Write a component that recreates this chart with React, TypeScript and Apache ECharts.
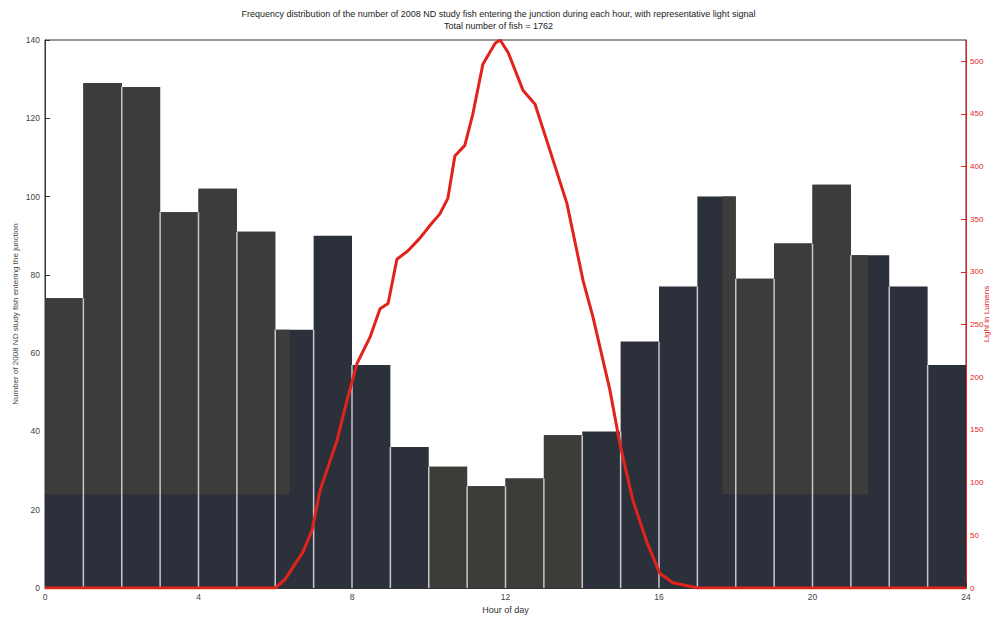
import React, { useEffect, useRef } from "react";
import * as echarts from "echarts";

// Fish counts per hour bin [h, h+1)
const hourBins = [0, 1, 2, 3, 4, 5, 6, 7, 8, 9, 10, 11, 12, 13, 14, 15, 16, 17, 18, 19, 20, 21, 22, 23];
const fishCounts = [74, 129, 128, 96, 102, 91, 66, 90, 57, 36, 31, 26, 28, 39, 40, 63, 77, 100, 79, 88, 103, 85, 77, 57];

// Representative light signal
const lightHours = [0, 6.0, 6.25, 6.72, 6.96, 7.17, 7.61, 7.87, 8.13, 8.47, 8.73, 8.94, 9.17, 9.46, 9.77, 10.03, 10.29, 10.5, 10.68, 10.94, 11.15, 11.41, 11.73, 11.86, 12.07, 12.46, 12.77, 13.16, 13.6, 14.02, 14.28, 14.72, 14.98, 15.32, 15.69, 16.02, 16.36, 16.89, 17.0, 24];
const lightLumens = [0, 0, 8, 34, 55, 93, 140, 178, 213, 238, 265, 270, 312, 320, 332, 344, 355, 370, 410, 420, 450, 497, 517, 520, 508, 472, 459, 415, 365, 292, 257, 188, 137, 83, 43, 14, 5, 1, 0, 0];

const xTicks = [0, 4, 8, 12, 16, 20, 24];

const titleText =
  "Frequency distribution of the number of 2008 ND study fish entering the junction during each hour, with representative light signal\nTotal number of fish = 1762";

// scan tint regions (style only)
const BAR_BLUE = "#2c303a";
const tintRegions = [
  { x0: 0, x1: 6.38, yMin: 24, color: "#3c3c3a" },
  { x0: 17.65, x1: 21.45, yMin: 24, color: "#3c3c3a" },
  { x0: 10, x1: 14, yMin: 0, color: "#3d3c39" },
];

const FONT = "Liberation Sans, Arial, sans-serif";
const RED = "#e2231c";

export default function App() {
  const ref = useRef<HTMLDivElement>(null);
  useEffect(() => {
    if (!ref.current) return;
    const chart = echarts.init(ref.current, undefined, { renderer: "svg" });
    const option: any = {
      animation: false,
      backgroundColor: "#ffffff",
      title: {
        text: titleText,
        left: "center",
        top: 3,
        textStyle: {
          fontSize: 9,
          fontWeight: "normal",
          fontFamily: FONT,
          color: "#222",
          lineHeight: 12,
        },
      },
      grid: {
        left: 45,
        right: 31,
        top: 40,
        bottom: 30,
        outerBoundsMode: "none",
        containLabel: false,
        show: true,
        borderColor: "#333",
        borderWidth: 1,
        backgroundColor: "transparent",
      },
      xAxis: {
        type: "value",
        min: 0,
        max: 24,
        interval: 4,
        name: "Hour of day",
        nameLocation: "middle",
        nameGap: 17,
        nameMoveOverlap: false,
        nameTextStyle: { fontSize: 9, fontFamily: FONT, color: "#333" },
        axisLine: { show: true, lineStyle: { color: "#333", width: 1 } },
        axisTick: { show: true, inside: true, length: 5, lineStyle: { color: "#333" } },
        axisLabel: {
          fontSize: 8.5,
          fontFamily: FONT,
          color: "#444",
          margin: 4,
          formatter: (v: number) => (xTicks.includes(v) ? String(v) : ""),
        },
        splitLine: { show: false },
      },
      yAxis: [
        {
          type: "value",
          min: 0,
          max: 140,
          interval: 20,
          position: "left",
          name: "Number of 2008 ND study fish entering the junction",
          nameLocation: "middle",
          nameGap: 26,
          nameRotate: 90,
          nameMoveOverlap: false,
          nameTextStyle: { fontSize: 8, fontFamily: FONT, color: "#444" },
          axisLine: { show: true, lineStyle: { color: "#333", width: 1 } },
          axisTick: { show: true, inside: true, length: 5, lineStyle: { color: "#333" } },
          axisLabel: { fontSize: 8.5, fontFamily: FONT, color: "#444", margin: 5 },
          splitLine: { show: false },
        },
        {
          type: "value",
          min: 0,
          max: 520,
          interval: 50,
          position: "right",
          name: "Light in Lumens",
          nameLocation: "middle",
          nameGap: 20,
          nameRotate: 90,
          nameMoveOverlap: false,
          nameTextStyle: { fontSize: 8, fontFamily: FONT, color: RED, verticalAlign: "middle" },
          axisLine: { show: true, lineStyle: { color: RED, width: 1 } },
          axisTick: { show: true, inside: true, length: 5, lineStyle: { color: RED } },
          axisLabel: { fontSize: 8, fontFamily: FONT, color: RED, margin: 4, showMaxLabel: false },
          splitLine: { show: false },
        },
      ],
      series: [
        {
          type: "custom",
          xAxisIndex: 0,
          yAxisIndex: 0,
          z: 2,
          data: hourBins.map((h, i) => [h, fishCounts[i]]),
          encode: { x: 0, y: 1 },
          renderItem: (params: any, api: any) => {
            const i = params.dataIndex;
            const h = api.value(0);
            const v = api.value(1);
            const p0 = api.coord([h, 0]);
            const p1 = api.coord([h + 1, v]);
            const children: any[] = [
              {
                type: "rect",
                shape: { x: p0[0], y: p1[1], width: p1[0] - p0[0], height: p0[1] - p1[1] },
                style: { fill: BAR_BLUE },
              },
            ];
            tintRegions.forEach((r) => {
              const a = Math.max(h, r.x0);
              const b = Math.min(h + 1, r.x1);
              if (b > a && v > r.yMin) {
                const q0 = api.coord([a, r.yMin]);
                const q1 = api.coord([b, v]);
                children.push({
                  type: "rect",
                  shape: { x: q0[0], y: q1[1], width: q1[0] - q0[0], height: q0[1] - q1[1] },
                  style: { fill: r.color },
                });
              }
            });
            if (i > 0) {
              const m = Math.min(v, fishCounts[i - 1]);
              const t = api.coord([h, m]);
              children.push({
                type: "line",
                shape: { x1: p0[0], y1: p0[1], x2: p0[0], y2: t[1] },
                style: { stroke: "#c6c6cc", lineWidth: 1.5 },
              });
            }
            return { type: "group", children };
          },
        },
        {
          type: "line",
          xAxisIndex: 0,
          yAxisIndex: 1,
          z: 5,
          data: lightHours.map((h, i) => [h, lightLumens[i]]),
          showSymbol: false,
          symbol: "none",
          lineStyle: { color: RED, width: 3 },
        },
      ],
    };
    chart.setOption(option);
    return () => chart.dispose();
  }, []);
  return <div ref={ref} style={{ width: 997, height: 618, position: "absolute", left: 0, top: 0 }} />;
}
